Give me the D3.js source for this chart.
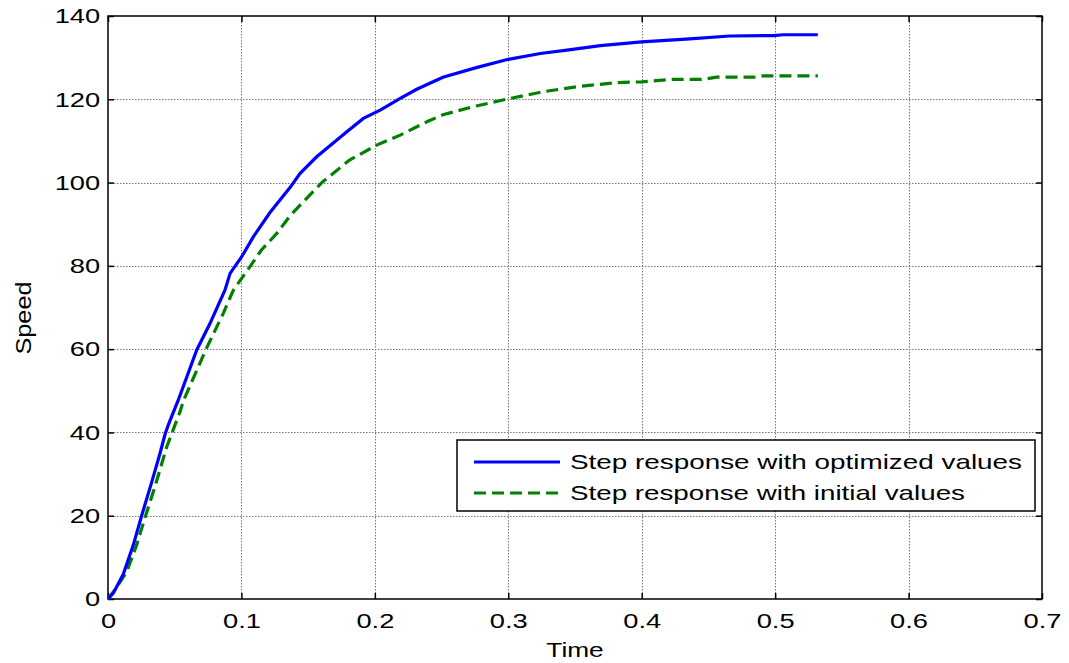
<!DOCTYPE html>
<html>
<head>
<meta charset="utf-8">
<script src="https://cdn.jsdelivr.net/npm/d3@7"></script>
<style>
  html, body { margin: 0; padding: 0; background: #fff; }
  svg { display: block; font-family: "Liberation Sans", Arial, sans-serif; }
</style>
</head>
<body>
<svg id="chart" width="1069" height="663"></svg>
<script>
// Step response samples: [time (s), speed]
const optimizedTime  = [0, 0.004, 0.0115, 0.019, 0.0252, 0.0327, 0.039, 0.0427, 0.0452, 0.0527, 0.0665, 0.0765, 0.0877, 0.0915, 0.1002, 0.109, 0.1214, 0.1364, 0.144, 0.1564, 0.179, 0.1914, 0.204, 0.219, 0.2314, 0.251, 0.276, 0.3, 0.324, 0.344, 0.369, 0.4, 0.436, 0.466, 0.4987, 0.506, 0.532];
const optimizedSpeed = [0, 1.4, 6.0, 13.0, 20.0, 28.0, 35.0, 39.5, 41.8, 47.8, 59.8, 66.2, 74.2, 78.2, 82.2, 87.0, 92.8, 98.8, 102.2, 106.2, 112.2, 115.4, 117.4, 120.2, 122.4, 125.3, 127.6, 129.6, 131.0, 131.8, 132.9, 133.8, 134.5, 135.2, 135.3, 135.5, 135.5];

const initialTime  = [0, 0.0052, 0.014, 0.0215, 0.0277, 0.0352, 0.044, 0.054, 0.0565, 0.0735, 0.0864, 0.094, 0.1064, 0.115, 0.1265, 0.1364, 0.144, 0.161, 0.181, 0.2014, 0.219, 0.239, 0.251, 0.276, 0.3, 0.326, 0.351, 0.381, 0.4, 0.4238, 0.446, 0.456, 0.484, 0.491, 0.532];
const initialSpeed = [0, 2.2, 6.5, 13.0, 19.5, 27.0, 36.5, 45.0, 47.6, 60.0, 68.6, 74.2, 79.8, 83.8, 87.8, 92.0, 94.6, 100.2, 105.4, 109.0, 111.4, 114.6, 116.3, 118.4, 120.1, 121.8, 123.0, 124.0, 124.2, 124.8, 124.8, 125.3, 125.3, 125.6, 125.6];

const xTicks = [0, 0.1, 0.2, 0.3, 0.4, 0.5, 0.6, 0.7];
const yTicks = [0, 20, 40, 60, 80, 100, 120, 140];
const seriesNames = ["Step response with optimized values", "Step response with initial values"];
const seriesColors = ["#0000ff", "#008000"];

const svg = d3.select("#chart");
const m = { left: 108, right: 1042, top: 16, bottom: 599 };
const stretch = 1.3;   // wide lettering

const x = d3.scaleLinear().domain([0, 0.7]).range([m.left, m.right]);
const y = d3.scaleLinear().domain([0, 140]).range([m.bottom, m.top]);

// grid
const grid = svg.append("g").attr("stroke", "#777").attr("stroke-width", 1).attr("stroke-dasharray", "1.5,1.5");
grid.selectAll(".gx").data(xTicks.slice(1, -1)).join("line")
  .attr("x1", d => Math.round(x(d)) + 0.5).attr("x2", d => Math.round(x(d)) + 0.5)
  .attr("y1", m.top).attr("y2", m.bottom);
grid.selectAll(".gy").data(yTicks.slice(1, -1)).join("line")
  .attr("y1", d => Math.round(y(d)) + 0.5).attr("y2", d => Math.round(y(d)) + 0.5)
  .attr("x1", m.left).attr("x2", m.right);

// axes with inward ticks on all four sides
const fmt = d => d === 0 ? "0" : String(d);
const axisStyle = g => {
  g.select(".domain").remove();
  g.selectAll(".tick line").attr("stroke", "#000").attr("stroke-width", 1.5);
  g.selectAll(".tick text").attr("fill", "#000").style("font-size", "21px")
    .style("font-family", "Liberation Sans, Arial, sans-serif");
};
svg.append("g").attr("transform", `translate(0,${m.bottom})`)
  .call(d3.axisBottom(x).tickValues(xTicks).tickFormat(fmt).tickSizeInner(-6).tickSizeOuter(0).tickPadding(14))
  .call(axisStyle)
  .call(g => g.selectAll(".tick text").attr("transform", `scale(${stretch},1)`));
svg.append("g").attr("transform", `translate(0,${m.top})`)
  .call(d3.axisTop(x).tickValues(xTicks).tickFormat("").tickSizeInner(-6).tickSizeOuter(0))
  .call(axisStyle);
svg.append("g").attr("transform", `translate(${m.left},0)`)
  .call(d3.axisLeft(y).tickValues(yTicks).tickFormat(fmt).tickSizeInner(-6).tickSizeOuter(0).tickPadding(6))
  .call(axisStyle)
  .call(g => g.selectAll(".tick text").attr("transform", `scale(${stretch},1)`));
svg.append("g").attr("transform", `translate(${m.right},0)`)
  .call(d3.axisRight(y).tickValues(yTicks).tickFormat("").tickSizeInner(-6).tickSizeOuter(0))
  .call(axisStyle);

// box
svg.append("rect").attr("x", m.left).attr("y", m.top)
  .attr("width", m.right - m.left).attr("height", m.bottom - m.top)
  .attr("fill", "none").attr("stroke", "#000").attr("stroke-width", 1.5);

// curves
const line = d3.line().x(d => x(d[0])).y(d => y(d[1]));
const optimized = optimizedTime.map((t, i) => [t, optimizedSpeed[i]]);
const initial = initialTime.map((t, i) => [t, initialSpeed[i]]);

svg.append("path").datum(initial).attr("d", line)
  .attr("fill", "none").attr("stroke", seriesColors[1]).attr("stroke-width", 3.2)
  .attr("stroke-dasharray", "12,6");
svg.append("path").datum(optimized).attr("d", line)
  .attr("fill", "none").attr("stroke", seriesColors[0]).attr("stroke-width", 3.2);

// axis titles
svg.append("text").attr("transform", `translate(${(m.left + m.right) / 2},657) scale(1.25,1)`)
  .attr("text-anchor", "middle").style("font-size", "21px").text("Time");
svg.append("text").attr("transform", "translate(31,318) rotate(-90)")
  .attr("text-anchor", "middle").style("font-size", "22px")
  .attr("textLength", 73).attr("lengthAdjust", "spacingAndGlyphs").text("Speed");

// legend
const legendWidths = [452, 395];
const lg = svg.append("g");
lg.append("rect").attr("x", 457).attr("y", 440).attr("width", 578).attr("height", 71)
  .attr("fill", "#fff").attr("stroke", "#000").attr("stroke-width", 1.5);
[0, 1].forEach(i => {
  const yy = 462 + i * 31;
  lg.append("line").attr("x1", 474).attr("x2", 560).attr("y1", yy).attr("y2", yy)
    .attr("stroke", seriesColors[i]).attr("stroke-width", 3.2)
    .attr("stroke-dasharray", i === 1 ? "12,6" : null);
  lg.append("text").attr("x", 570).attr("y", yy + 7).style("font-size", "21px")
    .attr("textLength", legendWidths[i]).attr("lengthAdjust", "spacingAndGlyphs")
    .text(seriesNames[i]);
});
</script>
</body>
</html>
